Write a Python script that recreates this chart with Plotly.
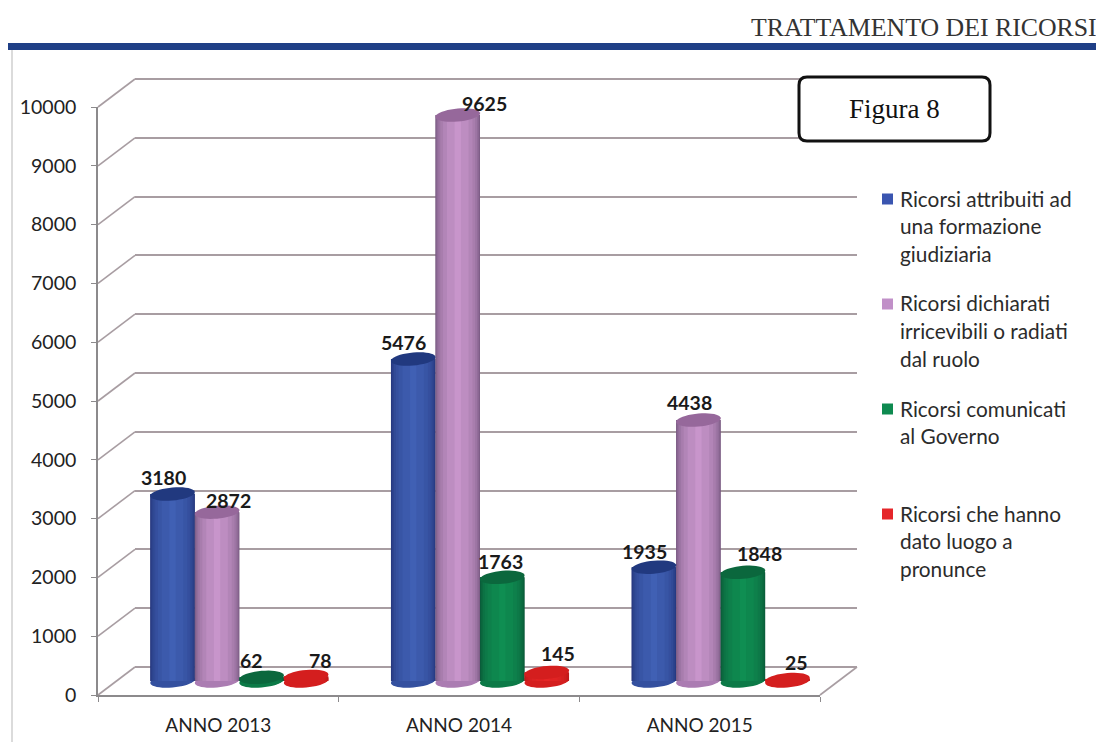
import math
import plotly.graph_objects as go

W, H = 1096, 742

# ---- data -------------------------------------------------------------
categories = ["ANNO 2013", "ANNO 2014", "ANNO 2015"]
attribuiti = [3180, 5476, 1935]
irricevibili = [2872, 9625, 4438]
comunicati = [62, 1763, 1848]
pronunce = [78, 145, 25]
y_ticks = [0, 1000, 2000, 3000, 4000, 5000, 6000, 7000, 8000, 9000, 10000]
legend_lines = [
    ["Ricorsi attribuiti ad", "una formazione", "giudiziaria"],
    ["Ricorsi dichiarati", "irricevibili o radiati", "dal ruolo"],
    ["Ricorsi comunicati", "al Governo"],
    ["Ricorsi che hanno", "dato luogo a", "pronunce"],
]
header_text = "TRATTAMENTO DEI RICORSI"
figure_label = "Figura 8"

# ---- style ------------------------------------------------------------
series = [attribuiti, irricevibili, comunicati, pronunce]
names = [" ".join(l) for l in legend_lines]
edge_colors = [(0x22, 0x33, 0x78), (0x72, 0x55, 0x7c), (0x0a, 0x55, 0x36), (0xb8, 0x18, 0x18)]
mid_colors = [(0x40, 0x60, 0xb4), (0xc8, 0x95, 0xcb), (0x0f, 0x8e, 0x52), (0xe6, 0x25, 0x25)]
N_SHADES = 9
cap_colors = ["#21397f", "#96689b", "#0b673d", "#d41e1e"]
base_colors = ["#34509f", "#ab7cb2", "#0c7a47", "#d41e1e"]
legend_colors = ["#3a55b0", "#c190c8", "#0e8a50", "#e5262a"]
label_nudges = [  # pixel shifts of value labels, by series then category
    [(-9, 17), (-10, 17), (-9, 16)],
    [(11.5, 12), (27, 12), (-9, 18)],
    [(-10, 17), (-2, 16), (17, 19)],
    [(14.5, 16), (11, 19), (9, 17)],
]
GRID = "#a89da2"
AXIS = "#8c8a8c"
TXT = "#222222"
SANS = "Lato"
SERIF = "Liberation Serif"

# pixel frames of the three planes of the pseudo-3D box (x0, x1, y_at_0, y_at_top)
FRONT = (98, 820, 695, 107)
MID = (119, 841, 681, 93)
BACK = (135, 857, 667, 79)


def fx(p):
    return p / W


def fy(p):
    return 1 - p / H


YMAX = y_ticks[-1]
cat_px = (MID[1] - MID[0]) / len(categories)
val_px = (MID[2] - MID[3]) / YMAX
bar_w = 0.185  # in category units
Y2_FLOOR = -400  # room under the bars for their rounded bottoms
WALL_PAD = 20  # keeps the outermost grid lines inside the wall axis range


def bar_offset(k):
    return (k - 1.5) * bar_w


def blend(a, b, t):
    return "rgb({},{},{})".format(*[round(p + (q - p) * t) for p, q in zip(a, b)])


fig = go.Figure()

# back wall carries the grid (first subplot, so it stays under the bars)
fig.add_trace(go.Scatter(x=categories, y=[0, 0, 0], mode="none", showlegend=False,
                         hoverinfo="skip", xaxis="x", yaxis="y"))

# cylinders: nested bars from the dark rim to the light middle
for k, (vals, nm) in enumerate(zip(series, names)):
    for s in range(N_SHADES):
        t = s / (N_SHADES - 1)
        f = math.sqrt(max(1 - t ** 2, 0.02))  # chord width of a round column
        fig.add_trace(go.Bar(
            x=categories, y=vals, name=nm, width=bar_w * f,
            offset=bar_offset(k) - bar_w * f / 2,
            marker=dict(color=blend(edge_colors[k], mid_colors[k], t), line=dict(width=0)),
            showlegend=False, hoverinfo="x+y", xaxis="x2", yaxis="y2",
        ))

# front axis carrying the tick labels
fig.add_trace(go.Scatter(x=categories, y=[0, 0, 0], mode="none", showlegend=False,
                         hoverinfo="skip", xaxis="x3", yaxis="y3"))


def ellipse_path(cx_cat, val):
    a = bar_w * cat_px / 2
    b = 6.5
    slope = 0.085
    pts = []
    for i in range(40):
        t = 2 * math.pi * i / 40
        dx = a * math.cos(t)
        dy = b * math.sin(t) + slope * a * math.cos(t)
        pts.append((cx_cat + dx / cat_px, val + dy / val_px))
    return "M " + " L ".join(f"{x:.4f} {y:.2f}" for x, y in pts) + " Z"


shapes = []
for k, vals in enumerate(series):
    for i, v in enumerate(vals):
        cx = i + bar_offset(k)
        shapes.append(dict(type="path", xref="x2", yref="y2", layer="below",
                           path=ellipse_path(cx, 0), fillcolor=base_colors[k],
                           line=dict(width=0)))
for k, vals in enumerate(series):
    for i, v in enumerate(vals):
        cx = i + bar_offset(k)
        shapes.append(dict(type="path", xref="x2", yref="y2", layer="above",
                           path=ellipse_path(cx, v), fillcolor=cap_colors[k],
                           line=dict(width=0)))

# depth diagonals from the front axis to the back wall
for t in y_ticks:
    yf = FRONT[2] + (FRONT[3] - FRONT[2]) * t / YMAX
    yb = BACK[2] + (BACK[3] - BACK[2]) * t / YMAX
    shapes.append(dict(type="line", xref="paper", yref="paper", layer="below",
                       x0=fx(FRONT[0]), x1=fx(BACK[0]), y0=fy(yf), y1=fy(yb),
                       line=dict(color=GRID, width=1.6)))
shapes.append(dict(type="line", xref="paper", yref="paper", layer="below",
                   x0=fx(FRONT[1]), x1=fx(BACK[1]), y0=fy(FRONT[2]), y1=fy(BACK[2]),
                   line=dict(color=GRID, width=1.6)))

# page furniture: header rule, left frame, figure box
shapes.append(dict(type="rect", xref="paper", yref="paper", layer="above",
                   x0=fx(8), x1=1, y0=fy(50), y1=fy(43),
                   fillcolor="#1f3f86", line=dict(width=0)))
shapes.append(dict(type="line", xref="paper", yref="paper", layer="above",
                   x0=fx(12), x1=fx(12), y0=fy(50), y1=0,
                   line=dict(color="#cfcfcf", width=1.5)))
bx0, bx1, by0, by1, r = fx(799), fx(990), fy(141), fy(77), 8
rx, ry = r / W, r / H
box = (f"M {bx0 + rx} {by0} L {bx1 - rx} {by0} Q {bx1} {by0} {bx1} {by0 + ry} "
       f"L {bx1} {by1 - ry} Q {bx1} {by1} {bx1 - rx} {by1} "
       f"L {bx0 + rx} {by1} Q {bx0} {by1} {bx0} {by1 - ry} "
       f"L {bx0} {by0 + ry} Q {bx0} {by0} {bx0 + rx} {by0} Z")
shapes.append(dict(type="path", xref="paper", yref="paper", layer="above", path=box,
                   fillcolor="white", line=dict(color="#111111", width=3)))

annotations = []
# value labels
for k, vals in enumerate(series):
    for i, v in enumerate(vals):
        nx, ny = label_nudges[k][i]
        annotations.append(dict(
            x=i + bar_offset(k), y=v, xref="x2", yref="y2", text=f"<b>{v}</b>",
            showarrow=False, xanchor="center", yanchor="middle",
            xshift=nx, yshift=ny, font=dict(family=SANS, size=19.5, color="#1a1a1a"),
        ))

# legend, line by line (its line spacing is wider than a plain legend allows)
legend_tops = [198, 303, 408, 513]
LINE_STEP = 27.5
for lines, top, col in zip(legend_lines, legend_tops, legend_colors):
    shapes.append(dict(type="rect", xref="paper", yref="paper", layer="above",
                       x0=fx(882), x1=fx(893), y0=fy(top + 6.5), y1=fy(top - 4.5),
                       fillcolor=col, line=dict(width=0)))
    for j, line in enumerate(lines):
        annotations.append(dict(
            x=fx(898), y=fy(top + j * LINE_STEP), xref="paper", yref="paper",
            text=line, showarrow=False, xanchor="left", yanchor="middle",
            font=dict(family=SANS, size=20.8, color="#2b2b2b"),
        ))

annotations.append(dict(x=fx(749), y=fy(27), xref="paper", yref="paper", text=header_text,
                        showarrow=False, xanchor="left", yanchor="middle",
                        font=dict(family=SERIF, size=25.8, color="#333333")))
annotations.append(dict(x=fx(894), y=fy(109), xref="paper", yref="paper", text=figure_label,
                        showarrow=False, xanchor="center", yanchor="middle",
                        font=dict(family=SERIF, size=27, color="#111111")))


def dom_x(frame):
    return [fx(frame[0]), fx(frame[1])]


wall_px = (BACK[2] - BACK[3]) / YMAX * WALL_PAD
floor_px = -Y2_FLOOR * val_px

cat_range = [-0.5, len(categories) - 0.5]
hidden_x = dict(type="category", categoryorder="array", categoryarray=categories,
                range=cat_range, showgrid=False, zeroline=False, showline=False,
                showticklabels=False, ticks="", automargin=False)
hidden_y = dict(showgrid=False, zeroline=False, showline=False,
                showticklabels=False, ticks="", automargin=False)

fig.update_layout(
    width=W, height=H, autosize=False,
    margin=dict(l=0, r=0, t=0, b=0),
    paper_bgcolor="white", plot_bgcolor="rgba(0,0,0,0)",
    barmode="overlay", showlegend=False,
    shapes=shapes, annotations=annotations,
    xaxis={**hidden_x, "domain": dom_x(BACK), "anchor": "y"},
    yaxis={**hidden_y, "range": [-WALL_PAD, YMAX + WALL_PAD],
           "domain": [fy(BACK[2] + wall_px), fy(BACK[3] - wall_px)],
           "anchor": "x", "showgrid": True,
           "gridcolor": GRID, "gridwidth": 1.6, "tickvals": y_ticks},
    xaxis2={**hidden_x, "domain": dom_x(MID), "anchor": "y2"},
    yaxis2={**hidden_y, "range": [Y2_FLOOR, YMAX],
            "domain": [fy(MID[2] + floor_px), fy(MID[3])], "anchor": "x2"},
    xaxis3=dict(type="category", categoryorder="array", categoryarray=categories,
                range=cat_range, domain=dom_x(FRONT), anchor="y3", showgrid=False,
                zeroline=False, showline=True, linecolor=AXIS, linewidth=1.6,
                ticks="outside", tickson="boundaries", ticklen=5, tickcolor=AXIS,
                ticklabelstandoff=12, automargin=False,
                tickfont=dict(family=SANS, size=19, color=TXT)),
    yaxis3=dict(range=[0, YMAX], domain=[fy(FRONT[2]), fy(FRONT[3])], anchor="x3",
                showgrid=False, zeroline=False, showline=True, linecolor=AXIS,
                linewidth=1.6, tickvals=y_ticks, ticktext=[str(t) for t in y_ticks],
                ticks="outside", ticklen=5, tickcolor=AXIS, ticklabelstandoff=11,
                automargin=False,
                tickfont=dict(family=SANS, size=19.5, color=TXT)),
)

fig.write_html("out.html", config={"displayModeBar": False},
               post_script="document.body.style.margin='0';")
